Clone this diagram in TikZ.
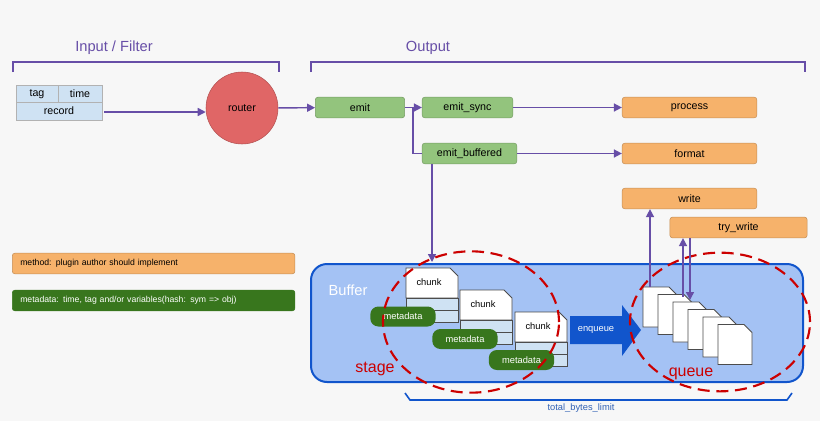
\documentclass[tikz,border=0pt]{standalone}
\usepackage{fontspec}
\setmainfont{Liberation Sans}
\usetikzlibrary{arrows.meta}
\definecolor{arrowcol}{HTML}{674EA7}
\definecolor{lgreen}{HTML}{93C47D}
\definecolor{dgreen}{HTML}{38761D}
\definecolor{orng}{HTML}{F6B26B}
\definecolor{lblue}{HTML}{CFE2F3}
\definecolor{bufblue}{HTML}{A4C2F4}
\definecolor{bufline}{HTML}{1155CC}
\definecolor{redc}{HTML}{CC0000}
\definecolor{routercol}{HTML}{E06666}
\tikzset{
  box/.style={draw=gray!60, rounded corners=2pt, minimum height=15.5pt, inner sep=0pt, font=\fontsize{8}{9}\selectfont},
  greenbox/.style={box, fill=lgreen, draw=lgreen!80!black},
  orangebox/.style={box, fill=orng, draw=orng!80!black},
  flow/.style={draw=arrowcol, line width=1.1pt, -{Triangle[length=6pt,width=6pt]}},
  bracket/.style={draw=arrowcol, line width=1.2pt},
  page/.style={draw=black!70, fill=white, line width=0.6pt},
  tag/.style={fill=dgreen, text=white, rounded corners=6pt, minimum height=15pt, minimum width=49pt, inner sep=0pt, font=\fontsize{7}{8}\selectfont},
  zone/.style={redc, dash pattern=on 9pt off 5pt, line width=1.6pt},
}
\begin{document}
\begin{tikzpicture}[x=0.75pt,y=-0.75pt]
\fill[black!3] (0,0) rectangle (820,421);
\useasboundingbox (0,0) rectangle (820,421);
%Brackets
\draw[bracket] (13,72) -- (13,62) -- (279,62) -- (279,72);
\draw[bracket] (311,72) -- (311,62) -- (805,62) -- (805,72);
\node[text=arrowcol, font=\fontsize{11}{12}\selectfont] (inlabel) at (114,48) {Input / Filter};
\node[text=arrowcol, font=\fontsize{11}{12}\selectfont] (outlabel) at (428,48) {Output};
%Event record
\draw[fill=lblue, draw=gray!60] (16,85) rectangle (102,120);
\draw[draw=gray!60] (16,102) -- (102,102) (58,85) -- (58,102);
\node[font=\fontsize{8}{9}\selectfont] (tag) at (37,94) {tag};
\node[font=\fontsize{8}{9}\selectfont] (time) at (80,94) {time};
\node[font=\fontsize{8}{9}\selectfont] (record) at (59,111) {record};
\coordinate (recout) at (104,112);
%Router and output nodes
\node[circle, fill=routercol, draw=routercol!80!black, minimum size=54pt, font=\fontsize{8}{9}\selectfont] (router) at (242,108) {router};
\node[greenbox, minimum width=67pt] (emit) at (360,107.5) {emit};
\node[greenbox, minimum width=68pt] (sync) at (467.5,107.5) {emit\_sync};
\node[greenbox, minimum width=71pt] (buffered) at (469.5,153.5) {emit\_buffered};
\node[orangebox, minimum width=101pt] (process) at (689.5,107.5) {process};
\node[orangebox, minimum width=101pt] (format) at (689.5,153.5) {format};
\node[orangebox, minimum width=101pt] (write) at (689.5,198.5) {write};
\node[orangebox, minimum width=103pt] (trywrite) at (738.5,227.5) {try\_write};
%Legend
\node[orangebox, minimum width=211pt, anchor=west, text width=200pt, inner xsep=6pt, font=\fontsize{6.5}{7}\selectfont] (legmethod) at (12,263.5) {method: plugin author should implement};
\node[box, fill=dgreen, draw=dgreen, text=white, minimum width=211pt, anchor=west, text width=200pt, inner xsep=6pt, font=\fontsize{6.5}{7}\selectfont] (legmeta) at (12,300.5) {metadata: time, tag and/or variables(hash: sym => obj)};
%Buffer
\draw[fill=bufblue, draw=bufline, line width=1.5pt, rounded corners=12pt] (311,264) rectangle (803,382);
\node[text=white, font=\fontsize{11}{12}\selectfont] (buflabel) at (348,290) {Buffer};
%Chunks
\foreach \x/\y [count=\i] in {406/268, 460/290, 515/312}{
  \draw[page, fill=white] (\x,\y) -- (\x+44,\y) -- (\x+52,\y+8) -- (\x+52,\y+30) -- (\x,\y+30) -- cycle;
  \draw[page, fill=lblue] (\x,\y+30) rectangle (\x+52,\y+42);
  \draw[page, fill=lblue] (\x,\y+42) rectangle (\x+52,\y+54);
  \node[font=\fontsize{7}{8}\selectfont] (chunk\i) at (\x+23,\y+14) {chunk};
}
\node[tag] (meta1) at (403,316.5) {metadata};
\node[tag] (meta2) at (465,339) {metadata};
\node[tag] (meta3) at (521.5,360) {metadata};
%Enqueue
\fill[bufline] (570,316) -- (622,316) -- (622,305) -- (641,330) -- (622,356) -- (622,344) -- (570,344) -- cycle;
\node[text=white, font=\fontsize{7}{8}\selectfont] (enqueue) at (596,330) {enqueue};
%Queue pages
\foreach \i in {0,...,5}{
  \draw[page] (643+15*\i,287+7.5*\i) -- (669+15*\i,287+7.5*\i) -- (677+15*\i,295+7.5*\i) -- (677+15*\i,327+7.5*\i) -- (643+15*\i,327+7.5*\i) -- cycle;
}
\coordinate (q1) at (650,287);
\coordinate (q2) at (683,297);
\coordinate (q3) at (690,300);
%Ellipses
\draw[zone] (471,322) ellipse [x radius=66pt, y radius=53pt];
\draw[zone] (720,322) ellipse [x radius=67.5pt, y radius=52pt];
\node[text=redc, font=\fontsize{12}{13}\selectfont] (stage) at (375,369) {stage};
\node[text=redc, font=\fontsize{12}{13}\selectfont] (queue) at (691,374) {queue};
%Total limit
\draw[draw=bufline, line width=1.2pt] (405,393) -- (410,400) -- (787,400) -- (792,393);
\node[text=bufline!70!gray, font=\fontsize{7}{8}\selectfont] (limit) at (581,408) {total\_bytes\_limit};
%Lines
\draw[flow] (recout) -- (router.west |- recout);
\draw[flow] (router) -- (emit);
\draw[flow] (emit) -- (sync);
\draw[draw=arrowcol, line width=1.1pt] (emit.east) -- (413,107.5) -- (413,153.5) -- (buffered.west);
\draw[flow] (sync) -- (process);
\draw[flow] (buffered) -- (format);
\draw[flow] (432,164) -- (432,262);
\draw[flow] (q1) -- (q1 |- write.south);
\draw[flow] (q2) -- (q2 |- trywrite.south);
\draw[flow] (q3 |- trywrite.south) -- (q3);
\end{tikzpicture}
\end{document}
